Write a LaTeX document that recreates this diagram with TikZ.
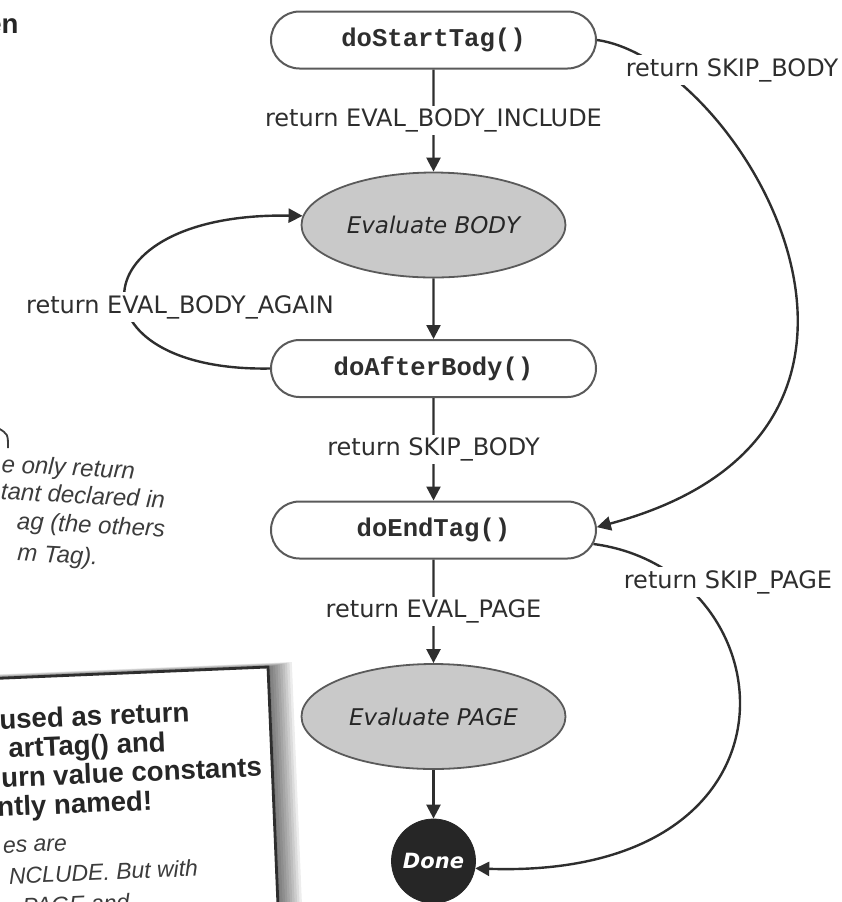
\documentclass[tikz,border=0pt]{standalone}
\usepackage{fontspec}
\setmainfont{DejaVu Sans}
\newfontfamily\codefont{Liberation Mono}
\newfontfamily\notefont{Liberation Sans}
\usetikzlibrary{shapes.misc, shapes.geometric, arrows.meta}

\definecolor{inkgray}{HTML}{2E2E2E}
\definecolor{bodygray}{HTML}{C9C9C9}
\definecolor{edgegray}{HTML}{5A5A5A}
\definecolor{donegray}{HTML}{262626}
\definecolor{handgray}{HTML}{3C3C3C}

\begin{document}
\begin{tikzpicture}[x=0.5pt, y=-0.5pt,
    method/.style={rounded rectangle, draw=edgegray, line width=1pt, fill=white, minimum width=162.5pt, minimum height=28.5pt, inner sep=0pt, font=\codefont\bfseries\fontsize{12.8}{14}\selectfont, text=inkgray},
    phase/.style={ellipse, draw=edgegray, line width=0.9pt, fill=bodygray, minimum width=132pt, minimum height=52.5pt, inner sep=0pt, font=\itshape\fontsize{11.5}{13}\selectfont, text=donegray},
    finish/.style={circle, fill=donegray, draw=donegray, minimum size=42pt, inner sep=0pt, text=white, font=\bfseries\itshape\fontsize{10.5}{12}\selectfont},
    ret/.style={fill=white, inner sep=1.5pt, text=inkgray, font=\fontsize{12}{14}\selectfont},
    arrow/.style={line width=1.2pt, draw=inkgray, -{Triangle[length=7pt, width=7pt]}},
    hand/.style={anchor=base east, inner sep=0pt, rotate=-3, text=handgray, font=\notefont\itshape\fontsize{12}{13}\selectfont},
    notebold/.style={anchor=base east, inner sep=0pt, text=donegray, font=\notefont\bfseries\fontsize{13.8}{14}\selectfont},
    noteit/.style={anchor=base east, inner sep=0pt, text=handgray, font=\notefont\itshape\fontsize{11.5}{13}\selectfont}
]
\useasboundingbox (0,0) rectangle (842,902);
\clip (0,0) rectangle (842,902);

% cut-off heading and side note
\node[notebold] (headtail) at (19,33) {en};
\draw[handgray, line width=0.9pt] (-2,428) .. controls (8,434) .. (8,448);
\node[hand] (hand1) at (135,479) {e only return};
\node[hand] (hand2) at (165,508) {tant declared in};
\node[hand] (hand3) at (165,537) {ag (the others};
\node[hand] (hand4) at (98,565) {m Tag).};

% tilted note card
\begin{scope}[rotate around={2.4:(268,667)}]
  \foreach \s in {1,...,10}
    \fill[black, opacity=0.07] (-300,{667-0.4*\s}) rectangle ({268+2.4*\s},1100);
  \filldraw[fill=white, draw=inkgray, line width=1.4pt] (-300,667) rectangle (268,1100);
  \begin{scope}[transform shape]
    \node[notebold] (card1) at (188,718) {used as return};
    \node[notebold] (card2) at (163,747) {artTag() and};
    \node[notebold] (card3) at (258,776) {urn value constants};
    \node[notebold] (card4) at (147,805) {ntly named!};
    \node[noteit] (card5) at (60,842) {es are};
    \node[noteit] (card6) at (190,873) {NCLUDE. But with};
    \node[noteit] (card7) at (120,904) {\_PAGE and};
  \end{scope}
\end{scope}

% states
\node[method] (start) at (433.5,40) {doStartTag()};
\node[phase] (evalbody) at (433.5,225) {Evaluate BODY};
\node[method] (afterbody) at (433.5,368.5) {doAfterBody()};
\node[method] (endtag) at (433.5,530) {doEndTag()};
\node[phase] (evalpage) at (433.5,716.5) {Evaluate PAGE};
\node[finish] (done) at (433.5,861) {Done};

% main flow
\draw[arrow] (start) -- node[ret] {return EVAL\_BODY\_INCLUDE} (evalbody);
\draw[arrow] (evalbody) -- (afterbody);
\draw[arrow] (afterbody) -- node[ret] {return SKIP\_BODY} (endtag);
\draw[arrow] (endtag) -- node[ret] {return EVAL\_PAGE} (evalpage);
\draw[arrow] (evalpage) -- (done);

% loop and bypasses
\draw[arrow] (afterbody.west) .. controls (70,372) and (75,212) .. (evalbody.176);
\node[ret] (againlbl) at (180,307) {return EVAL\_BODY\_AGAIN};
\draw[arrow] (start.east) .. controls (740,60) and (960,430) .. (endtag.1);
\node[ret] (skipbodylbl) at (732,70) {return SKIP\_BODY};
\draw[arrow] (endtag.-5) .. controls (790,570) and (820,880) .. (done.-10);
\node[ret] (skippagelbl) at (728,582) {return SKIP\_PAGE};

\end{tikzpicture}
\end{document}
